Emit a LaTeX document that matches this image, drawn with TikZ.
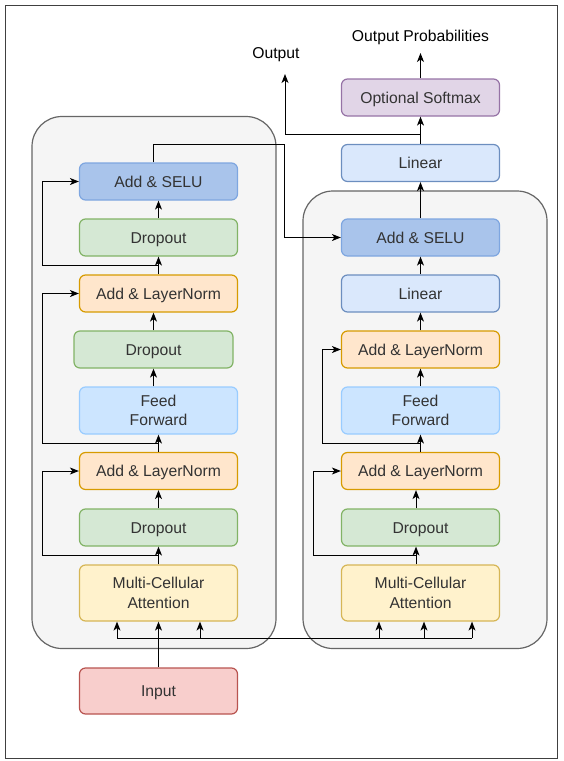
\documentclass[tikz,border=0pt]{standalone}
\usepackage{fontspec}
\setmainfont{Liberation Sans}
\usepackage{tikz}
\usetikzlibrary{arrows.meta,calc}

\definecolor{seluFill}{HTML}{A9C4EB}\definecolor{seluDraw}{HTML}{7EA6E0}
\definecolor{dropFill}{HTML}{D5E8D4}\definecolor{dropDraw}{HTML}{82B366}
\definecolor{normFill}{HTML}{FFE6CC}\definecolor{normDraw}{HTML}{D79B00}
\definecolor{ffFill}{HTML}{CCE5FF}\definecolor{ffDraw}{HTML}{99CCFF}
\definecolor{linFill}{HTML}{DAE8FC}\definecolor{linDraw}{HTML}{6C8EBF}
\definecolor{attFill}{HTML}{FFF2CC}\definecolor{attDraw}{HTML}{D6B656}
\definecolor{inFill}{HTML}{F8CECC}\definecolor{inDraw}{HTML}{B85450}
\definecolor{softFill}{HTML}{E1D5E7}\definecolor{softDraw}{HTML}{9673A6}
\definecolor{groupFill}{HTML}{F5F5F5}\definecolor{groupDraw}{HTML}{666666}
\definecolor{textgray}{HTML}{333333}

\begin{document}
\begin{tikzpicture}[x=1pt,y=-1pt,
  block/.style={draw, rounded corners=6pt, line width=1.2pt, minimum width=158pt,
    minimum height=37pt, inner sep=0pt, align=center, text=textgray,
    text height=11.3pt, text depth=0pt,
    font=\fontsize{15.7}{19.5}\selectfont},
  twoline/.style={text height=, text depth=},
  seluBox/.style={block, fill=seluFill, draw=seluDraw},
  dropBox/.style={block, fill=dropFill, draw=dropDraw},
  normBox/.style={block, fill=normFill, draw=normDraw},
  ffBox/.style={block, twoline, fill=ffFill, draw=ffDraw, minimum height=47pt},
  linBox/.style={block, fill=linFill, draw=linDraw},
  attBox/.style={block, twoline, fill=attFill, draw=attDraw, minimum height=56pt},
  inBox/.style={block, fill=inFill, draw=inDraw, minimum height=46pt},
  softBox/.style={block, fill=softFill, draw=softDraw},
  group/.style={draw=groupDraw, fill=groupFill, line width=1.2pt, rounded corners=30pt},
  lbl/.style={inner sep=0pt, font=\fontsize{15.7}{19}\selectfont},
  wire/.style={line width=1pt},
  arr/.style={line width=1pt, -{Stealth[length=9pt,width=7pt,inset=2.5pt]}}]
\useasboundingbox (0,0) rectangle (563,761);
\draw[line width=1.5pt, draw=black!75] (5.5,5.5) rectangle (557.5,758.5);

% Encoder groups
\draw[group] (32,116.5) rectangle (276,648.5);
\draw[group] (303,191) rectangle (547,648.5);

% Left stack
\node[seluBox] (lselu) at (158.5,181.5) {Add \& SELU};
\node[dropBox] (ldropc) at (158.5,237.5) {Dropout};
\node[normBox] (lnormb) at (158.5,293.5) {Add \& LayerNorm};
\node[dropBox, minimum width=159pt] (ldropb) at (153.5,349.5) {Dropout};
\node[ffBox] (lff) at (158.5,410.5) {Feed\\Forward};
\node[normBox] (lnorma) at (158.5,471) {Add \& LayerNorm};
\node[dropBox] (ldropa) at (158.5,527.5) {Dropout};
\node[attBox] (latt) at (158.5,593) {Multi-Cellular\\Attention};
\node[inBox] (input) at (158.5,691) {Input};

% Right stack
\node[softBox] (softmax) at (420.5,97.5) {Optional Softmax};
\node[linBox] (linout) at (420.5,163) {Linear};
\node[seluBox] (rselu) at (420.5,237.5) {Add \& SELU};
\node[linBox] (rlin) at (420.5,293.5) {Linear};
\node[normBox] (rnormb) at (420.5,349.5) {Add \& LayerNorm};
\node[ffBox] (rff) at (420.5,410.5) {Feed\\Forward};
\node[normBox] (rnorma) at (420.5,471) {Add \& LayerNorm};
\node[dropBox] (rdrop) at (420.5,527.5) {Dropout};
\node[attBox] (ratt) at (420.5,593) {Multi-Cellular\\Attention};

% Outputs
\node[lbl] (probs) at (420.5,37) {Output Probabilities};
\node[lbl] (outlbl) at (276,55) {Output};
\coordinate (probtip) at (420.5,53);
\coordinate (outtip) at (285,74);
\coordinate (brk) at (285,134.5);
\coordinate (jmp) at (284.5,144);

% helper columns
\coordinate (lx) at (42,0);
\coordinate (rxa) at (313,0);
\coordinate (rxb) at (322,0);
\coordinate (rcol) at (416,0);

% Input bus
\foreach \x/\n in {117/a,200/b,379/c,424/d,472/e}
  \coordinate (bus\n) at (\x,638);
\draw[wire] (busa) -- (buse);
\draw[arr] (input) -- (latt);
\foreach \n in {a,b}
  \draw[arr] (bus\n) -- (bus\n |- latt.south);
\foreach \n in {c,d,e}
  \draw[arr] (bus\n) -- (bus\n |- ratt.south);

% Left connections
\draw[arr] (latt) -- (ldropa);
\draw[arr] (ldropa) -- (lnorma);
\draw[arr] (lnorma) -- (lff);
\draw[arr] (ldropb.south |- lff.north) -- (ldropb.south);
\draw[arr] (ldropb.north) -- (ldropb.north |- lnormb.south);
\draw[arr] (lnormb) -- (ldropc);
\draw[arr] (ldropc) -- (lselu);
\path ($(latt.north)!.5!(ldropa.south)$) coordinate (lra)
      ($(lnorma.north)!.5!(lff.south)$) coordinate (lrb)
      ($(lnormb.north)!.5!(ldropc.south)$) coordinate (lrc);
\draw[arr] (lra) -- (lra -| lx) |- (lnorma.west);
\draw[arr] (lrb) -- (lrb -| lx) |- (lnormb.west);
\draw[arr] (lrc) -- (lrc -| lx) |- (lselu.west);
\draw[arr] (ldropb.north |- lselu.north) |- (jmp) |- (rselu.west);

% Right connections
\draw[arr] (rcol |- ratt.north) -- (rcol |- rdrop.south);
\draw[arr] (rcol |- rdrop.north) -- (rcol |- rnorma.south);
\draw[arr] (rnorma) -- (rff);
\draw[arr] (rff) -- (rnormb);
\draw[arr] (rnormb) -- (rlin);
\draw[arr] (rlin) -- (rselu);
\draw[arr] (rselu) -- (linout);
\draw[arr] (linout) -- (softmax);
\path ($(ratt.north)!.5!(rdrop.south)$) coordinate (rra)
      ($(rnorma.north)!.5!(rff.south)$) coordinate (rrb);
\draw[arr] (rcol |- rra) -- (rra -| rxa) |- (rnorma.west);
\draw[arr] (rrb) -- (rrb -| rxb) |- (rnormb.west);

% Output arrows
\draw[arr] (softmax) -- (probtip);
\draw[arr] (linout.north |- brk) -- (brk) -- (outtip);
\end{tikzpicture}
\end{document}
